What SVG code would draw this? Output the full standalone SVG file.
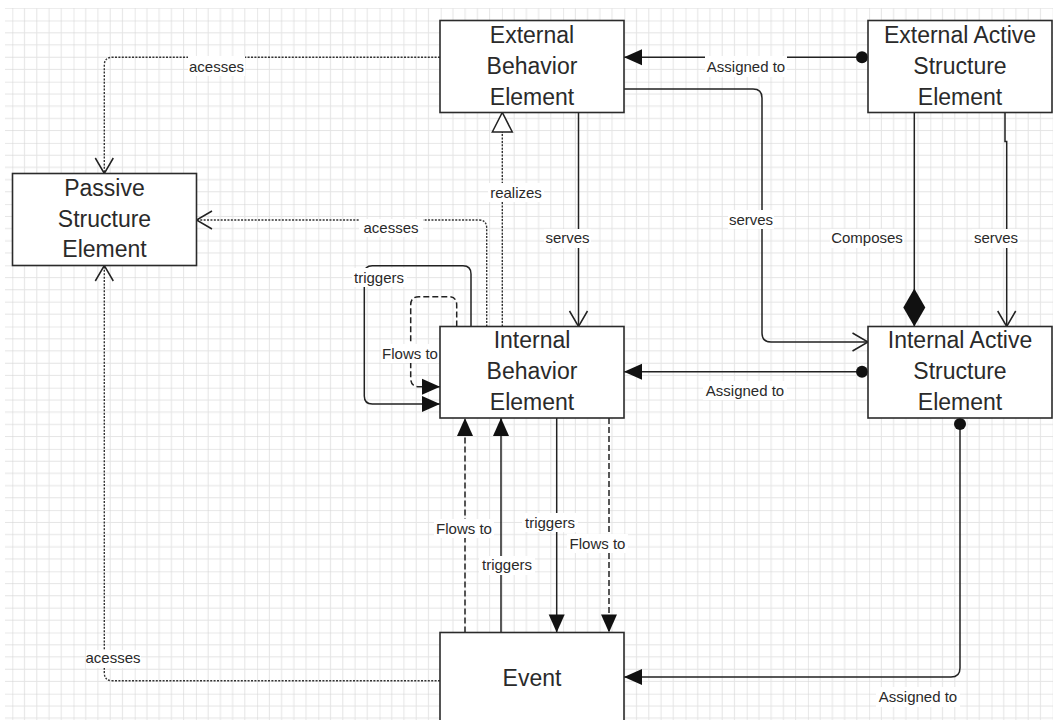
<svg xmlns="http://www.w3.org/2000/svg" width="1053" height="720" viewBox="0 0 1053 720">
  <style>
    .node rect { fill: #ffffff; stroke: #2b2b2b; stroke-width: 1.6; }
    .node text { font-family: "Liberation Sans", Arial, sans-serif; font-size: 23px; fill: #2a2a2a; text-anchor: middle; }
    .edge { fill: none; stroke: #222222; stroke-width: 1.5; }
    .dotted { stroke: #333333; stroke-width: 1.4; stroke-dasharray: 2 1.4; }
    .dashed { stroke-dasharray: 6 3; }
    .lbl rect { fill: #ffffff; }
    .lbl text { font-family: "Liberation Sans", Arial, sans-serif; font-size: 15px; fill: #2a2a2a; text-anchor: middle; }
  </style>
  <defs>
    <pattern id="grid" x="12.3" y="20.5" width="61.2" height="61.2" patternUnits="userSpaceOnUse">
      <path d="M12.24,0V61.2M24.48,0V61.2M36.72,0V61.2M48.96,0V61.2M0,12.24H61.2M0,24.48H61.2M0,36.72H61.2M0,48.96H61.2" stroke="#e4e4e4" stroke-width="1" fill="none"/>
      <path d="M0,0V61.2M0,0H61.2" stroke="#d2d2d2" stroke-width="1" fill="none"/>
    </pattern>
    <!-- filled triangle head -->
    <marker id="tri" markerUnits="userSpaceOnUse" markerWidth="18" markerHeight="16" viewBox="0 0 18 16" refX="18" refY="8" orient="auto" overflow="visible">
      <path d="M0,0L18,8L0,16z" fill="#111111"/>
    </marker>
    <!-- open V head -->
    <marker id="open" markerUnits="userSpaceOnUse" markerWidth="16" markerHeight="18" viewBox="0 0 16 18" refX="15.5" refY="9" orient="auto" overflow="visible">
      <path d="M0,0L15.5,9L0,18" fill="none" stroke="#222222" stroke-width="1.5"/>
    </marker>
    <!-- hollow triangle head (realization) -->
    <marker id="hollow" markerUnits="userSpaceOnUse" markerWidth="20" markerHeight="20" viewBox="0 0 20 20" refX="19.5" refY="10" orient="auto" overflow="visible">
      <path d="M0,0L19.5,10L0,20z" fill="#ffffff" stroke="#222222" stroke-width="1.5"/>
    </marker>
    <!-- filled diamond (composition) -->
    <marker id="diamond" markerUnits="userSpaceOnUse" markerWidth="38" markerHeight="22" viewBox="0 0 38 22" refX="38" refY="11" orient="auto" overflow="visible">
      <path d="M0,11L19,0L38,11L19,22z" fill="#111111"/>
    </marker>
    <!-- filled dot at assignment source -->
    <marker id="dot" markerUnits="userSpaceOnUse" markerWidth="12" markerHeight="12" viewBox="0 0 12 12" refX="0" refY="6" orient="auto" overflow="visible">
      <circle cx="6" cy="6" r="6" fill="#111111"/>
    </marker>
  </defs>

  <rect x="0" y="0" width="1053" height="720" fill="#ffffff"/>
  <rect x="5" y="8" width="1048" height="712" fill="url(#grid)"/>

  <g id="connectors">
    <!-- accesses: external behavior -> passive -->
    <path class="edge dotted" d="M440,57.3H112.3Q104.3,57.3 104.3,65.3V173.5" marker-end="url(#open)"/>
    <!-- accesses: internal behavior -> passive -->
    <path class="edge dotted" d="M486.7,326.5V228Q486.7,220 478.7,220H196.5" marker-end="url(#open)"/>
    <!-- realizes -->
    <path class="edge dotted" d="M502.3,326.5V112.5" marker-end="url(#hollow)"/>
    <!-- serves: external behavior -> internal behavior -->
    <path class="edge" d="M578.5,112.5V326.5" marker-end="url(#open)"/>
    <!-- assigned: external active -> external behavior -->
    <path class="edge" d="M868,57.3H624" marker-start="url(#dot)" marker-end="url(#tri)"/>
    <!-- serves: external behavior -> internal active -->
    <path class="edge" d="M624,89H753Q762,89 762,98V333Q762,342 771,342H868" marker-end="url(#open)"/>
    <!-- composes -->
    <path class="edge" d="M914.3,112.5V326.5" marker-end="url(#diamond)"/>
    <!-- serves: external active -> internal active -->
    <path class="edge" d="M1005,112.5V141.5H1006.7V326.5" marker-end="url(#open)"/>
    <!-- assigned: internal active -> internal behavior -->
    <path class="edge" d="M868,371.7H624" marker-start="url(#dot)" marker-end="url(#tri)"/>
    <!-- assigned: internal active -> event -->
    <path class="edge" d="M960,418V668Q960,677 951,677H624" marker-start="url(#dot)" marker-end="url(#tri)"/>
    <!-- accesses: event -> passive -->
    <path class="edge dotted" d="M440,680.7H112.3Q104.3,680.7 104.3,672.7V265.5" marker-end="url(#open)"/>
    <!-- triggers self loop -->
    <path class="edge" d="M471,326.5V274Q471,265.7 463,265.7H372.3Q364.3,265.7 364.3,273.7V396Q364.3,404 372.3,404H440" marker-end="url(#tri)"/>
    <!-- flows to self loop -->
    <path class="edge dashed" d="M456.7,326.5V305Q456.7,296.7 448.4,296.7H419Q410.7,296.7 410.7,305V378.4Q410.7,386.7 419,386.7H440" marker-end="url(#tri)"/>
    <!-- event <-> internal behavior -->
    <path class="edge dashed" d="M465,632.5V418" marker-end="url(#tri)"/>
    <path class="edge" d="M501,632.5V418" marker-end="url(#tri)"/>
    <path class="edge" d="M556.7,418V632.5" marker-end="url(#tri)"/>
    <path class="edge dashed" d="M609,418V632.5" marker-end="url(#tri)"/>

    <g class="lbl">
      <rect x="188" y="56" width="57" height="20"/><text x="216.5" y="72">acesses</text>
      <rect x="359" y="219" width="64" height="18"/><text x="391" y="233">acesses</text>
      <rect x="488" y="183" width="56" height="19"/><text x="516" y="197.5">realizes</text>
      <rect x="544" y="229" width="47" height="19"/><text x="567.5" y="243">serves</text>
      <rect x="705" y="56" width="82" height="21"/><text x="746" y="71.5">Assigned to</text>
      <rect x="728" y="210" width="46" height="19"/><text x="751" y="224.5">serves</text>
      <rect x="830" y="229" width="74" height="19"/><text x="867" y="243">Composes</text>
      <rect x="972" y="229" width="48" height="19"/><text x="996" y="243">serves</text>
      <rect x="703" y="381" width="84" height="19"/><text x="745" y="395.5">Assigned to</text>
      <rect x="876" y="687" width="84" height="20"/><text x="918" y="702">Assigned to</text>
      <rect x="86" y="650" width="55" height="18"/><text x="113" y="663">acesses</text>
      <rect x="352" y="268" width="55" height="19"/><text x="379" y="283">triggers</text>
      <rect x="381" y="344" width="58" height="19"/><text x="410" y="359">Flows to</text>
      <rect x="434" y="519" width="60" height="19"/><text x="464" y="534">Flows to</text>
      <rect x="479" y="556" width="56" height="19"/><text x="507" y="570">triggers</text>
      <rect x="522" y="513" width="56" height="19"/><text x="550" y="528">triggers</text>
      <rect x="567" y="534" width="61" height="19"/><text x="597.5" y="549">Flows to</text>
    </g>
  </g>

  <g id="external-behavior" class="node">
    <rect x="440" y="20.5" width="184" height="92"/>
    <text x="532" y="42.5">External</text>
    <text x="532" y="73.5">Behavior</text>
    <text x="532" y="104.5">Element</text>
  </g>
  <g id="external-active" class="node">
    <rect x="868" y="20.5" width="184" height="92"/>
    <text x="960" y="42.5">External Active</text>
    <text x="960" y="73.5">Structure</text>
    <text x="960" y="104.5">Element</text>
  </g>
  <g id="passive-structure" class="node">
    <rect x="12.5" y="173.5" width="184" height="92"/>
    <text x="104.5" y="195.5">Passive</text>
    <text x="104.5" y="226.5">Structure</text>
    <text x="104.5" y="257">Element</text>
  </g>
  <g id="internal-behavior" class="node">
    <rect x="440" y="326.5" width="184" height="91.5"/>
    <text x="532" y="348">Internal</text>
    <text x="532" y="379">Behavior</text>
    <text x="532" y="410">Element</text>
  </g>
  <g id="internal-active" class="node">
    <rect x="868" y="326.5" width="184" height="91.5"/>
    <text x="960" y="348">Internal Active</text>
    <text x="960" y="379">Structure</text>
    <text x="960" y="410">Element</text>
  </g>
  <g id="event" class="node">
    <rect x="440" y="632.5" width="184" height="100"/>
    <text x="532" y="686">Event</text>
  </g>
</svg>
